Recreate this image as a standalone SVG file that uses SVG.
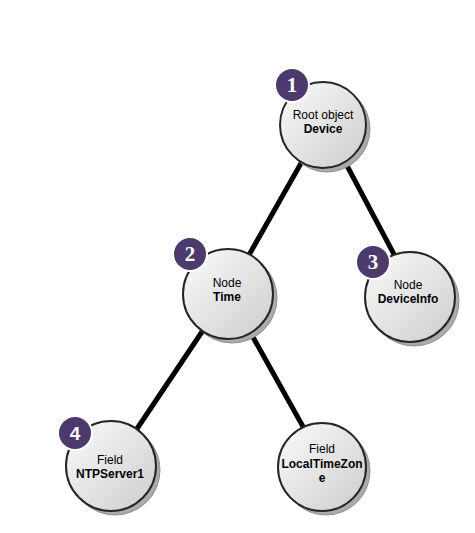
<svg xmlns="http://www.w3.org/2000/svg" width="475" height="533" viewBox="0 0 475 533">
<defs>
<linearGradient id="g" x1="0" y1="0" x2="1" y2="1">
<stop offset="0" stop-color="#fbfbfb"/>
<stop offset="1" stop-color="#cdcdcd"/>
</linearGradient>
</defs>
<style>
.sh{fill:#ababab;stroke:#8f8f8f;stroke-width:1}
.c{fill:url(#g);stroke:#262626;stroke-width:2}
.t{font-family:"Liberation Sans",Arial,sans-serif;font-size:12px;fill:#000;text-anchor:middle}
.b{font-weight:bold}
.bd{fill:#4b3a6b;stroke:#fff;stroke-width:2}
.n{font-family:"Liberation Serif","Times New Roman",serif;font-weight:bold;font-size:21px;fill:#fff;text-anchor:middle}
.n4{font-family:"Liberation Sans",Arial,sans-serif;font-weight:bold;font-size:19px;fill:#fff;text-anchor:middle}
.l{stroke:#000;stroke-width:5;fill:none}
</style>
<rect width="475" height="533" fill="#fff"/>
<g id="connectors">
<line class="l" x1="321" y1="128" x2="228" y2="292"/>
<line class="l" x1="327" y1="128" x2="414" y2="292"/>
<line class="l" x1="226" y1="296" x2="112" y2="466"/>
<line class="l" x1="230" y1="296" x2="325" y2="466"/>
</g>
<g id="node1">
<circle class="sh" cx="327" cy="129" r="43"/>
<circle class="c" cx="323" cy="125" r="43"/>
<text class="t" x="323" y="119">Root object</text>
<text class="t b" x="323" y="133">Device</text>
<circle class="bd" cx="292" cy="85" r="17"/>
<text class="n" x="292" y="92">1</text>
</g>
<g id="node2">
<circle class="sh" cx="232" cy="298" r="45"/>
<circle class="c" cx="228" cy="294" r="45"/>
<text class="t" x="227" y="287">Node</text>
<text class="t b" x="227" y="301">Time</text>
<circle class="bd" cx="190" cy="254" r="17"/>
<text class="n" x="190" y="261">2</text>
</g>
<g id="node3">
<circle class="sh" cx="414" cy="301" r="45"/>
<circle class="c" cx="410" cy="297" r="45"/>
<text class="t" x="408" y="289">Node</text>
<text class="t b" x="408" y="303">DeviceInfo</text>
<circle class="bd" cx="373" cy="262" r="17"/>
<text class="n" x="373" y="269">3</text>
</g>
<g id="node4">
<circle class="sh" cx="115" cy="470" r="45"/>
<circle class="c" cx="111" cy="466" r="45"/>
<text class="t" x="110" y="464">Field</text>
<text class="t b" x="110" y="478">NTPServer1</text>
<circle class="bd" cx="75" cy="433" r="17"/>
<text class="n4" x="75" y="440">4</text>
</g>
<g id="node5">
<circle class="sh" cx="326" cy="471" r="44"/>
<circle class="c" cx="322" cy="467" r="44"/>
<text class="t" x="322" y="453">Field</text>
<text class="t b" x="322" y="468">LocalTimeZon</text>
<text class="t b" x="322" y="482">e</text>
</g>
</svg>
